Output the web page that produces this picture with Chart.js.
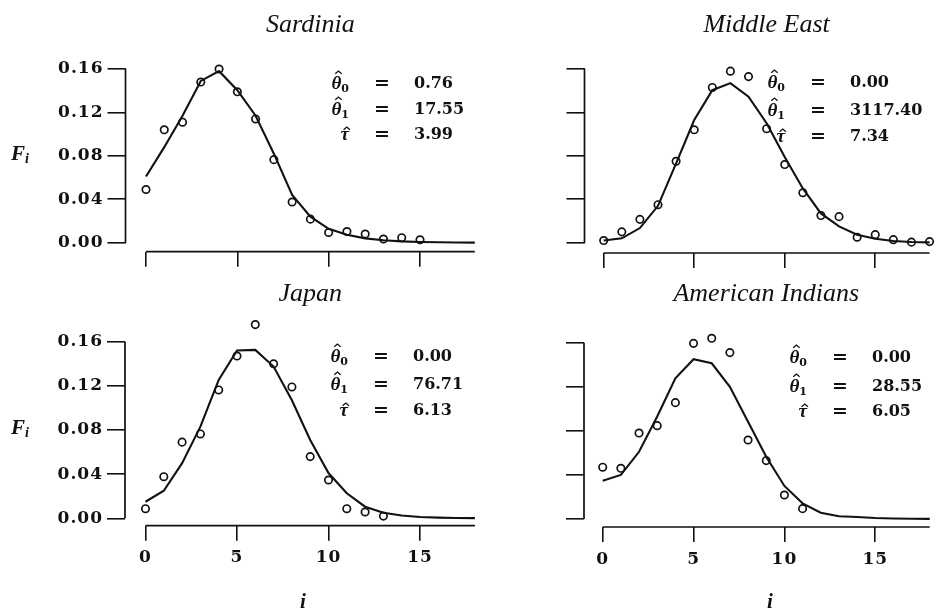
<!doctype html>
<html lang="en">
<head>
<meta charset="utf-8">
<script src="https://cdn.jsdelivr.net/npm/chart.js"></script>
<title>Fitted frequencies</title>
<style>
  body { margin: 0; background: #fff; }
  #wrap { position: relative; width: 939px; height: 610px; }
  #wrap canvas { position: absolute; left: 0; top: 0; }
</style>
</head>
<body>
<div id="wrap">
  <canvas id="c0" width="939" height="610"></canvas>
  <canvas id="c1" width="939" height="610"></canvas>
  <canvas id="c2" width="939" height="610"></canvas>
  <canvas id="c3" width="939" height="610"></canvas>
</div>
<script>
// ---- data ----
const titles = ['Sardinia', 'Middle East', 'Japan', 'American Indians'];

const sardiniaObs = [0.049, 0.104, 0.111, 0.148, 0.160, 0.139, 0.114, 0.0765, 0.0375, 0.0217, 0.0094, 0.0103, 0.008, 0.0034, 0.0046, 0.0027];
const sardiniaFit = [0.061, 0.088, 0.117, 0.149, 0.158, 0.1405, 0.117, 0.082, 0.044, 0.024, 0.0128, 0.0073, 0.004, 0.0022, 0.0012, 0.0007, 0.0004, 0.0002, 0.0001];

const middleEastObs = [0.002, 0.010, 0.0215, 0.035, 0.075, 0.104, 0.143, 0.158, 0.153, 0.105, 0.072, 0.046, 0.025, 0.024, 0.005, 0.0074, 0.0028, 0.0005, 0.001];
const middleEastFit = [0.002, 0.004, 0.0135, 0.034, 0.073, 0.113, 0.1405, 0.147, 0.1345, 0.110, 0.079, 0.050, 0.027, 0.015, 0.0074, 0.0037, 0.0015, 0.0007, 0.0003];

const japanObs = [0.0087, 0.0377, 0.069, 0.0764, 0.1163, 0.147, 0.1755, 0.140, 0.119, 0.0559, 0.0347, 0.0087, 0.0057, 0.002];
const japanFit = [0.015, 0.025, 0.050, 0.083, 0.1254, 0.152, 0.1526, 0.1375, 0.107, 0.071, 0.041, 0.0227, 0.0105, 0.005, 0.0025, 0.0012, 0.0006, 0.0003, 0.0002];

const amIndObs = [0.047, 0.046, 0.078, 0.0847, 0.1056, 0.1594, 0.164, 0.151, 0.0717, 0.053, 0.0218, 0.0094];
const amIndFit = [0.0348, 0.040, 0.061, 0.093, 0.1277, 0.145, 0.1413, 0.120, 0.0883, 0.0565, 0.030, 0.0142, 0.0057, 0.0025, 0.0018, 0.0009, 0.0004, 0.0002, 0.0001];

const theta0 = ['0.76', '0.00', '0.00', '0.00'];
const theta1 = ['17.55', '3117.40', '76.71', '28.55'];
const tauHat = ['3.99', '7.34', '6.13', '6.05'];

const xTicks = [0, 5, 10, 15];
const yTicks = [0, 0.04, 0.08, 0.12, 0.16];
const xAxisSpan = [0, 18];
const yAxisSpan = [0, 0.16];

// ---- layout (page pixels) ----
const ink = '#111';
const yW = 100, xH = 50;
const panels = [
  { id: 'c0', obs: sardiniaObs, fit: sardiniaFit, x0: 146, x15: 420, y0: 242.7, y16: 69, axisX: 125.5, axisY: 251.7, top: 40, right: 480,
    yLab: true, xLab: false, titleY: 32, eq: 382, rows: [84, 110, 135] },
  { id: 'c1', obs: middleEastObs, fit: middleEastFit, x0: 604, x15: 880, y0: 242.7, y16: 69, axisX: 584.5, axisY: 253, top: 40, right: 939,
    yLab: false, xLab: false, titleY: 32, eq: 818, rows: [83, 111, 137] },
  { id: 'c2', obs: japanObs, fit: japanFit, x0: 145.5, x15: 420, y0: 518.3, y16: 341.7, axisX: 125, axisY: 525.7, top: 312, right: 480,
    yLab: true, xLab: true, titleY: 301, eq: 381, rows: [357, 385, 411], iX: 303 },
  { id: 'c3', obs: amIndObs, fit: amIndFit, x0: 603, x15: 880, y0: 519, y16: 342.7, axisX: 584, axisY: 527, top: 312, right: 939,
    yLab: false, xLab: true, titleY: 301, eq: 840, rows: [358, 387, 412], iX: 770 }
];

function decor(p, idx) {
  return {
    id: 'decor' + idx,
    beforeDraw(chart) { chart.ctx.letterSpacing = '1px'; },
    afterDraw(chart) {
      const ctx = chart.ctx, xs = chart.scales.x, ys = chart.scales.y, a = chart.chartArea;
      ctx.save();
      ctx.letterSpacing = '0px';
      ctx.fillStyle = ink;
      ctx.strokeStyle = ink;
      ctx.lineWidth = 1.7;
      // range-limited axis lines
      ctx.beginPath();
      ctx.moveTo(xs.getPixelForValue(xAxisSpan[0]), a.bottom);
      ctx.lineTo(xs.getPixelForValue(xAxisSpan[1]), a.bottom);
      ctx.moveTo(a.left, ys.getPixelForValue(yAxisSpan[0]));
      ctx.lineTo(a.left, ys.getPixelForValue(yAxisSpan[1]));
      ctx.stroke();

      // panel title
      ctx.font = 'italic 26px "Liberation Serif"';
      ctx.textAlign = 'center';
      ctx.textBaseline = 'alphabetic';
      ctx.fillText(titles[idx], xs.getPixelForValue(9), p.titleY);

      // parameter estimates
      const rows = [['θ', '0', theta0[idx], 17], ['θ', '1', theta1[idx], 17], ['τ', '', tauHat[idx], 12]];
      rows.forEach((r, k) => {
        const y = p.rows[k];
        ctx.textBaseline = 'middle';
        ctx.font = 'bold 16px "DejaVu Serif"';
        ctx.textAlign = 'left';
        ctx.fillText(r[2], p.eq + 32, y);
        ctx.font = 'bold 19px "DejaVu Serif"';
        ctx.textAlign = 'center';
        ctx.fillText('=', p.eq, y);

        ctx.textAlign = 'left';
        ctx.textBaseline = 'alphabetic';
        ctx.font = 'bold 11px "DejaVu Serif"';
        const subW = r[1] ? ctx.measureText(r[1]).width : 0;
        ctx.font = 'bold italic 19px "Liberation Serif"';
        const symW = ctx.measureText(r[0]).width;
        const sx = p.eq - 33 - subW - symW;
        const base = y + 5;
        ctx.fillText(r[0], sx, base);
        const hx = sx + symW / 2 + 2, hy = base - r[3] - 1;
        ctx.lineWidth = 1.3;
        ctx.beginPath();
        ctx.moveTo(hx - 3.2, hy + 2.8);
        ctx.lineTo(hx, hy);
        ctx.lineTo(hx + 3.2, hy + 2.8);
        ctx.stroke();
        if (r[1]) {
          ctx.font = 'bold 11px "DejaVu Serif"';
          ctx.fillText(r[1], sx + symW, base + 3);
        }
      });

      // axis titles
      if (p.yLab) {
        const fy = ys.getPixelForValue(0.08) - 3;
        ctx.font = 'bold italic 21px "Liberation Serif"';
        ctx.textBaseline = 'alphabetic';
        ctx.textAlign = 'left';
        ctx.fillText('F', 11, fy + 7);
        const fw = ctx.measureText('F').width;
        ctx.font = 'bold italic 14px "Liberation Serif"';
        ctx.fillText('i', 11 + fw, fy + 10);
      }
      if (p.xLab) {
        ctx.font = 'bold italic 21px "Liberation Serif"';
        ctx.textAlign = 'center';
        ctx.textBaseline = 'middle';
        ctx.fillText('i', p.iX, 603);
      }
      ctx.restore();
    }
  };
}

panels.forEach((p, idx) => {
  const sx = (p.x15 - p.x0) / 15;
  const sy = (p.y0 - p.y16) / 0.16;
  const xmin = (p.axisX - p.x0) / sx;
  const xmax = (p.right - p.x0) / sx;
  const ymin = -(p.axisY - p.y0) / sy;
  const ymax = (p.y0 - p.top) / sy;

  const obsPts = p.obs.map((v, i) => ({ x: i, y: v }));
  const fitPts = p.fit.map((v, i) => ({ x: i, y: v }));
  const tickFont = { family: 'DejaVu Serif', weight: 'bold', size: 17 };

  new Chart(document.getElementById(p.id), {
    type: 'scatter',
    data: {
      datasets: [
        { type: 'line', data: fitPts, borderColor: ink, borderWidth: 2.1, pointRadius: 0, tension: 0, fill: false, clip: false },
        { data: obsPts, showLine: false, pointRadius: 3.7, borderWidth: 1.7, borderColor: ink, backgroundColor: 'rgba(0,0,0,0)', clip: false }
      ]
    },
    options: {
      responsive: false,
      animation: false,
      events: [],
      layout: { padding: { left: p.axisX - yW, top: p.top, right: 939 - p.right, bottom: 610 - p.axisY - xH } },
      plugins: { legend: { display: false }, tooltip: { enabled: false } },
      scales: {
        x: {
          type: 'linear', min: xmin, max: xmax,
          afterBuildTicks: s => { s.ticks = xTicks.map(v => ({ value: v })); },
          afterFit: s => { s.height = xH; s.paddingLeft = 0; s.paddingRight = 0; },
          border: { display: false },
          grid: { drawOnChartArea: false, drawTicks: true, tickLength: 15, color: ink, lineWidth: 1.6 },
          ticks: { autoSkip: false, maxRotation: 0, padding: 7, color: ink, font: tickFont,
                   callback: v => p.xLab ? String(v) : '' }
        },
        y: {
          type: 'linear', min: ymin, max: ymax,
          afterBuildTicks: s => { s.ticks = yTicks.map(v => ({ value: v })); },
          afterFit: s => { s.width = yW; s.paddingTop = 0; s.paddingBottom = 0; },
          border: { display: false },
          grid: { drawOnChartArea: false, drawTicks: true, tickLength: 18, color: ink, lineWidth: 1.6 },
          ticks: { autoSkip: false, padding: 4, color: ink, font: tickFont,
                   callback: v => p.yLab ? v.toFixed(2) : '' }
        }
      }
    },
    plugins: [decor(p, idx)]
  });
});
</script>
</body>
</html>
